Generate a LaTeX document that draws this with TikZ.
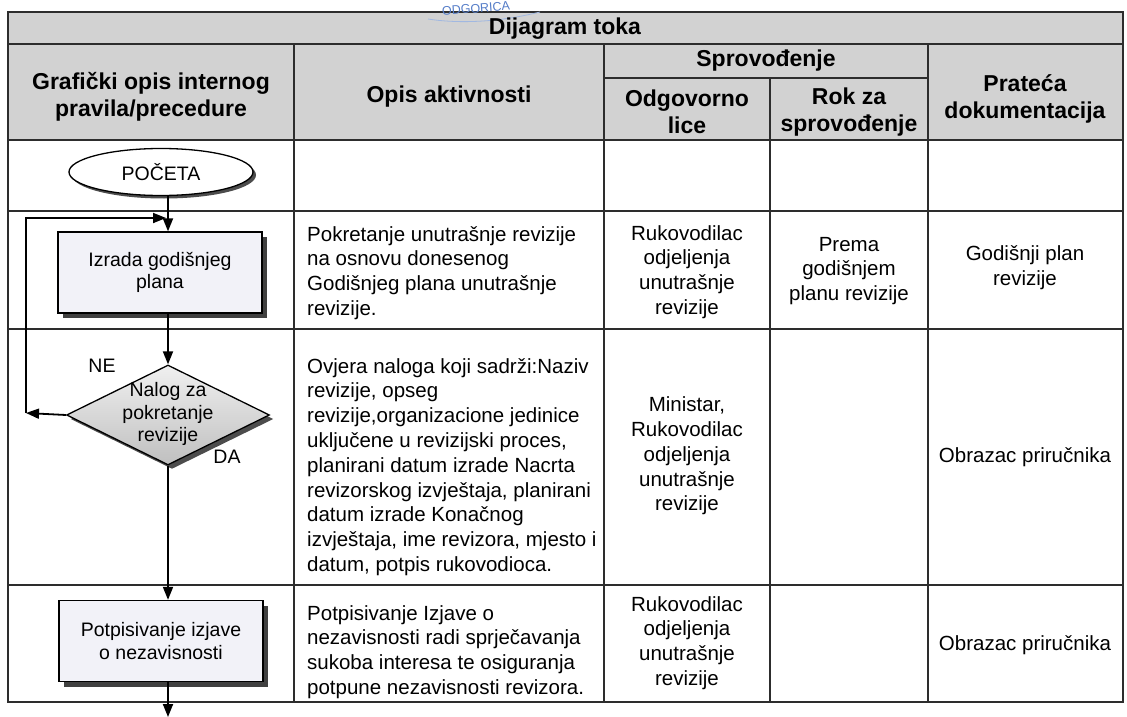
\documentclass[tikz,border=0pt]{standalone}
\usepackage{fontspec}
\setmainfont{Liberation Sans}
\usetikzlibrary{shapes.geometric,arrows.meta,shadows,calc}
\definecolor{hdrfill}{RGB}{210,210,210}
\definecolor{boxfill}{RGB}{242,242,248}
\definecolor{stampblue}{RGB}{85,125,200}
\definecolor{gridcol}{RGB}{45,45,45}
\tikzset{
  grid/.style={draw=gridcol, line width=1.1pt},
  hdr/.style={font=\bfseries\fontsize{23}{27}\selectfont, align=center, inner sep=0pt},
  bodyl/.style={font=\fontsize{20.5}{24.8}\selectfont, align=left, anchor=west, inner sep=0pt},
  bodyc/.style={font=\fontsize{20.5}{24.8}\selectfont, align=center, inner sep=0pt},
  flowtxt/.style={font=\fontsize{19.5}{22.5}\selectfont, align=center, inner sep=0pt},
  flow/.style={line width=1.8pt, -{Triangle[length=13pt,width=10pt]}},
  procbox/.style={draw=black, line width=1.3pt, fill=boxfill, minimum width=204pt,
    minimum height=81pt, inner sep=0pt, font=\fontsize{19.5}{22.5}\selectfont, align=center,
    drop shadow={shadow xshift=5pt, shadow yshift=-5pt, fill=black!75, opacity=1}},
  startel/.style={ellipse, draw=black, line width=1.3pt, fill=white, minimum width=184pt,
    minimum height=47pt, inner sep=0pt, font=\fontsize{19.5}{22.5}\selectfont,
    drop shadow={shadow xshift=3pt, shadow yshift=-3pt, fill=black!70, opacity=1}},
  dia/.style={diamond, draw=black, line width=1.3pt, inner sep=0pt, minimum width=203pt,
    minimum height=100pt, top color=gray!12, bottom color=gray!50,
    drop shadow={shadow xshift=4pt, shadow yshift=-4pt, fill=black!70, opacity=1}},
  stamp/.style={text=stampblue, font=\fontsize{12.5}{14}\selectfont, inner sep=0pt, rotate=4},
}
\begin{document}
\begin{tikzpicture}[x=1pt,y=-1pt]
\useasboundingbox (0,0) rectangle (1127,717);
\fill[white] (0,0) rectangle (1127,717);
% header fill
\fill[hdrfill] (8,12) rectangle (1123,140);
% grid
\draw[grid] (8,12) rectangle (1123,702);
\draw[grid] (8,44) -- (1123,44);
\draw[grid] (604,78) -- (928,78);
\draw[grid] (8,140) -- (1123,140);
\draw[grid] (8,211) -- (1123,211);
\draw[grid] (8,329) -- (1123,329);
\draw[grid] (8,585) -- (1123,585);
\draw[grid] (294,44) -- (294,702);
\draw[grid] (604,44) -- (604,702);
\draw[grid] (770,78) -- (770,702);
\draw[grid] (928,44) -- (928,702);
% stamp (on top of the table)
\draw[stampblue!55, line width=0.8pt] (428,19) .. controls (460,24) and (500,22) .. (540,12);
\node[stamp] (st) at (476,8.5) {ODGORICA};
% header texts
\node[hdr] (h0) at (565,29) {Dijagram toka};
\node[hdr] (h1) at (151,97) {Grafički opis internog\\pravila/precedure};
\node[hdr] (h2) at (449,97) {Opis aktivnosti};
\node[hdr] (h3) at (766,61) {Sprovođenje};
\node[hdr] (h4) at (687,112) {Odgovorno\\lice};
\node[hdr] (h5) at (849,112) {Rok za\\sprovođenje};
\node[hdr] (h6) at (1025,99) {Prateća\\dokumentacija};
% row texts
\node[bodyl] (t1) at (307,273) {Pokretanje unutrašnje revizije\\na osnovu donesenog\\Godišnjeg plana unutrašnje\\revizije.};
\node[bodyl] (t2) at (307,467) {Ovjera naloga koji sadrži:Naziv\\revizije, opseg\\revizije,organizacione jedinice\\uključene u revizijski proces,\\planirani datum izrade Nacrta\\revizorskog izvještaja, planirani\\datum izrade Konačnog\\izvještaja, ime revizora, mjesto i\\datum, potpis rukovodioca.};
\node[bodyl] (t3) at (307,652) {Potpisivanje Izjave o\\nezavisnosti radi sprječavanja\\sukoba interesa te osiguranja\\potpune nezavisnosti revizora.};
\node[bodyc] (o1) at (687,272) {Rukovodilac\\odjeljenja\\unutrašnje\\revizije};
\node[bodyc] (o2) at (687,456) {Ministar,\\Rukovodilac\\odjeljenja\\unutrašnje\\revizije};
\node[bodyc] (o3) at (687,643) {Rukovodilac\\odjeljenja\\unutrašnje\\revizije};
\node[bodyc] (r1) at (849,271) {Prema\\godišnjem\\planu revizije};
\node[bodyc] (p1) at (1025,268) {Godišnji plan\\revizije};
\node[bodyc] (p2) at (1025,457) {Obrazac priručnika};
\node[bodyc] (p3) at (1025,645) {Obrazac priručnika};
% flowchart
\coordinate (ax) at (168,0);
\node[startel] (start) at (161,172) {POČETA};
\node[procbox] (b1) at (160,272.5) {Izrada godišnjeg\\plana};
\node[dia] (d) at (168,415) {};
\node[flowtxt] (dt) at (168,414) {Nalog za\\pokretanje\\revizije};
\node[procbox] (b2) at (161,641) {Potpisivanje izjave\\o nezavisnosti};
\node[flowtxt] (ne) at (102,366) {NE};
\node[flowtxt] (da) at (227,457) {DA};
\coordinate (endpt) at (168,717);
\coordinate (loopL) at (26,413);
\coordinate (loopT) at (26,218);
\coordinate (loopIn) at (166,218);
\draw[flow] (start.south -| ax) -- (b1.north -| ax);
\draw[flow] (b1.south -| ax) -- (d.north);
\draw[flow] (d.south) -- (b2.north -| ax);
\draw[flow] (b2.south -| ax) -- (endpt);
\draw[flow] (d.west) -- (loopL);
\draw[flow] (loopL) -- (loopT) -- (loopIn);
\end{tikzpicture}
\end{document}
